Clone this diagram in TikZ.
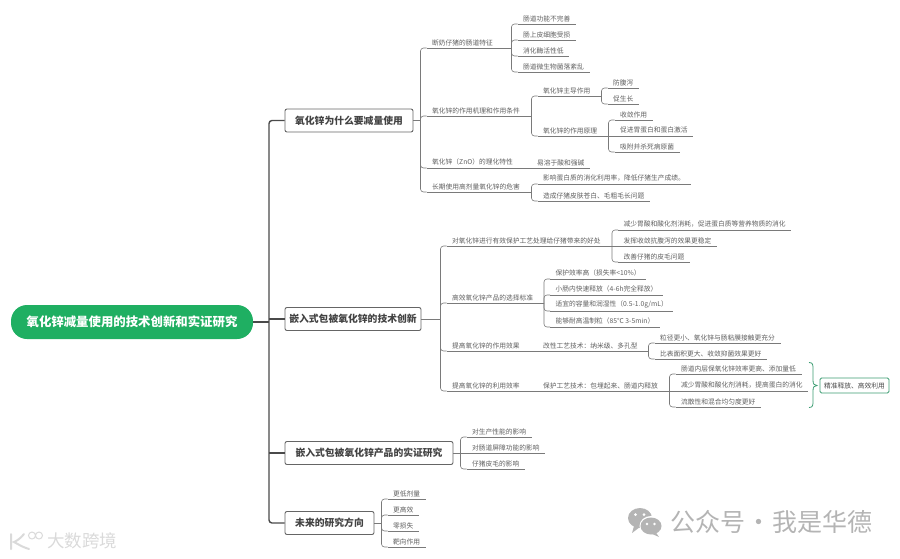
\documentclass[tikz,border=0pt]{standalone}
\usepackage{fontspec}
\setmainfont{Noto Sans CJK SC}
\definecolor{txt}{HTML}{5F5F5F}
\definecolor{ln}{HTML}{7A7A7A}
\definecolor{dk}{HTML}{4A4A4A}
\definecolor{grn}{HTML}{1FAF62}
\definecolor{dgrn}{HTML}{3C9C72}
\definecolor{wm}{HTML}{B4B4B4}
\definecolor{wl}{HTML}{DADADA}
\tikzset{
 conn/.style={draw=ln,line width=0.6pt},
 trunk/.style={draw=dk,line width=1.4pt},
 leaf/.style={anchor=south west,inner xsep=5.5pt,inner ysep=2.2pt,font=\fontsize{6.75}{8}\selectfont,text=txt,
   append after command={(\tikzlastnode.south west) edge[conn] (\tikzlastnode.south east)}},
 branch/.style={draw=dk!85,line width=0.9pt,rounded corners=2pt,fill=white,inner sep=0pt,
   minimum height=23pt,font=\fontsize{9.8}{11}\selectfont\bfseries,text=dk!90!black},
 rootbox/.style={fill=grn,rounded corners=16pt,minimum width=242pt,minimum height=34pt,inner sep=0pt,
   font=\fontsize{12.4}{14}\selectfont\bfseries,text=white},
 result/.style={draw=dgrn,line width=0.9pt,rounded corners=1.5pt,fill=white,minimum width=69pt,minimum height=15pt,inner sep=0pt,
   font=\fontsize{6.75}{8}\selectfont,text=dk},
 mark1/.style={anchor=west,inner sep=0pt,font=\fontsize{25}{28}\selectfont,text=wm},
 mark2/.style={anchor=west,inner sep=0pt,font=\fontsize{17.5}{20}\selectfont,text=wl}
}
% #1 = parent anchor, #2 = child, #3 = style
\newcommand\lk[3][conn]{%
 \path (#3.south west) ++(-6,0) coordinate (tt);
 \draw[#1,rounded corners=3pt] (#3.south west) -- (tt) -- (tt |- #2);
 \draw[#1] (tt |- #2) -- (#2);}
\newcommand\ls[2]{\draw[conn] (#1) -- (#2.south west);}
\begin{document}
\begin{tikzpicture}[x=1pt,y=-1pt]
\useasboundingbox (0,0) rectangle (900,558);
% root and branches
\node[rootbox] (root) at (132,322) {氧化锌减量使用的技术创新和实证研究};
\node[branch,minimum width=128pt] (b1) at (349,120.5) {氧化锌为什么要减量使用};
\node[branch,minimum width=136pt] (b2) at (353,319) {嵌入式包被氧化锌的技术创新};
\node[branch,minimum width=168pt] (b3) at (369,453) {嵌入式包被氧化锌产品的实证研究};
\node[branch,minimum width=89pt] (b4) at (329.5,523) {未来的研究方向};
\coordinate (hub) at (269,322);
\draw[trunk] (root.east) -- (hub);
\draw[trunk] (hub |- b2.west) -- (b2.west);
\draw[trunk,rounded corners=3pt] (b1.west) -- (hub |- b1.west) -- (hub |- b4.west) -- (b4.west);
\draw[trunk] (hub |- b3.west) -- (b3.west);
% branch 1
\node[leaf] (a1) at (426.5,48) {断奶仔猪的肠道特征};
\node[leaf] (a2) at (426.5,116) {氧化锌的作用机理和作用条件};
\node[leaf] (a3) at (426.5,168) {氧化锌（ZnO）的理化特性};
\node[leaf] (a4) at (426.5,192) {长期使用高剂量氧化锌的危害};
\lk{b1.east}{a1}\lk{b1.east}{a2}\lk{b1.east}{a3}\lk{b1.east}{a4}
\node[leaf] (a11) at (517.5,24) {肠道功能不完善};
\node[leaf] (a12) at (517.5,40) {肠上皮细胞受损};
\node[leaf] (a13) at (517.5,56) {消化酶活性低};
\node[leaf] (a14) at (517.5,72) {肠道微生物菌落紊乱};
\lk{a1.south east}{a11}\lk{a1.south east}{a12}\lk{a1.south east}{a13}\lk{a1.south east}{a14}
\node[leaf] (a21) at (537.5,96) {氧化锌主导作用};
\node[leaf] (a22) at (537.5,136) {氧化锌的作用原理};
\lk{a2.south east}{a21}\lk{a2.south east}{a22}
\node[leaf] (a211) at (607.5,88) {防腹泻};
\node[leaf] (a212) at (607.5,104) {促生长};
\lk{a21.south east}{a211}\lk{a21.south east}{a212}
\node[leaf] (a221) at (614.5,120) {收敛作用};
\node[leaf] (a222) at (614.5,136) {促进胃蛋白和蛋白激活};
\node[leaf] (a223) at (614.5,152) {吸附并杀死病原菌};
\lk{a22.south east}{a221}\ls{a22.south east}{a222}\lk{a22.south east}{a223}
\node[leaf] (a31) at (531.5,168) {易溶于酸和强碱};
\ls{a3.south east}{a31}
\node[leaf] (a41) at (537.5,184) {影响蛋白质的消化利用率，降低仔猪生产成绩。};
\node[leaf] (a42) at (537.5,201) {造成仔猪皮肤苍白、毛粗毛长问题};
\lk{a4.south east}{a41}\lk{a4.south east}{a42}
% branch 2
\node[leaf] (c1) at (446.5,246) {对氧化锌进行有效保护工艺处理给仔猪带来的好处};
\node[leaf] (c2) at (446.5,303) {高效氧化锌产品的选择标准};
\node[leaf] (c3) at (446.5,351) {提高氧化锌的作用效果};
\node[leaf] (c4) at (446.5,391) {提高氧化锌的利用效率};
\lk{b2.east}{c1}\lk{b2.east}{c2}\lk{b2.east}{c3}\lk{b2.east}{c4}
\node[leaf] (c11) at (618,230) {减少胃酸和酸化剂消耗，促进蛋白质等营养物质的消化};
\node[leaf] (c12) at (618,246) {发挥收敛抗腹泻的效果更稳定};
\node[leaf] (c13) at (618,262) {改善仔猪的皮毛问题};
\lk{c1.south east}{c11}\ls{c1.south east}{c12}\lk{c1.south east}{c13}
\node[leaf] (c21) at (550,279) {保护效率高（损失率<10\%）};
\node[leaf] (c22) at (550,295) {小肠内快速释放（4-6h完全释放）};
\node[leaf] (c23) at (550,311) {适宜的容量和润湿性（0.5-1.0g/mL）};
\node[leaf] (c24) at (550,327) {能够耐高温制粒（85℃ 3-5min）};
\lk{c2.south east}{c21}\lk{c2.south east}{c22}\lk{c2.south east}{c23}\lk{c2.south east}{c24}
\node[leaf] (c31) at (537.5,351) {改性工艺技术：纳米级、多孔型};
\ls{c3.south east}{c31}
\node[leaf] (c311) at (654.5,343) {粒径更小、氧化锌与肠粘膜接触更充分};
\node[leaf] (c312) at (654.5,359) {比表面积更大、收敛抑菌效果更好};
\lk{c31.south east}{c311}\lk{c31.south east}{c312}
\node[leaf] (c41) at (537.5,391) {保护工艺技术：包埋起来、肠道内释放};
\ls{c4.south east}{c41}
\node[leaf] (c411) at (675.5,374) {肠道内层保氧化锌效率更高、添加量低};
\node[leaf] (c412) at (675.5,391) {减少胃酸和酸化剂消耗，提高蛋白的消化};
\node[leaf] (c413) at (675.5,407) {流散性和混合均匀度更好};
\lk{c41.south east}{c411}\ls{c41.south east}{c412}\lk{c41.south east}{c413}
\node[result] (res) at (854.5,385.5) {精准释放、高效利用};
\draw[dgrn,line width=0.8pt] (809,362.5) .. controls (813,362.5) and (813,365) .. (813,369) -- (813,380) .. controls (813,384) and (814,385.5) .. (817,385.5) .. controls (814,385.5) and (813,387) .. (813,391) -- (813,401) .. controls (813,405) and (813,407.5) .. (809,407.5);
% branch 3
\node[leaf] (d1) at (466.5,437) {对生产性能的影响};
\node[leaf] (d2) at (466.5,453) {对肠道屏障功能的影响};
\node[leaf] (d3) at (466.5,469) {仔猪皮毛的影响};
\lk{b3.east}{d1}\ls{b3.east}{d2}\lk{b3.east}{d3}
% branch 4
\node[leaf] (e1) at (387.5,499) {更低剂量};
\node[leaf] (e2) at (387.5,515) {更高效};
\node[leaf] (e3) at (387.5,531) {零损失};
\node[leaf] (e4) at (387.5,547) {靶向作用};
\lk{b4.east}{e1}\lk{b4.east}{e2}\lk{b4.east}{e3}\lk{b4.east}{e4}
% watermarks
\node[mark1] (wmtext) at (670,522) {公众号\kern1pt·\kern1pt我是华德};
\fill[wm] (634,526) -- (632,533) -- (640,527) -- cycle;
\fill[wm] (640,518) ellipse [x radius=12,y radius=10];
\fill[white] (651,526) ellipse [x radius=11.5,y radius=10];
\fill[wm] (655,531) -- (659,537) -- (650,533) -- cycle;
\fill[wm] (651,526) ellipse [x radius=10.5,y radius=8.5];
\fill[white] (635.5,514.5) circle (1.5) (644,514.5) circle (1.5) (647,524) circle (1.3) (654.5,524) circle (1.3);
\node[mark2] (wltext) at (47,541) {大数跨境};
\draw[wl,line width=2pt,line cap=round] (11,534) -- (11,549) (24,534) .. controls (19,540) and (16,541) .. (14,542) .. controls (18,544) and (22,547) .. (29,549);
\draw[wl,line width=1pt] (32,535.5) circle (3.5) (39,535.5) circle (3.5);
\end{tikzpicture}
\end{document}
